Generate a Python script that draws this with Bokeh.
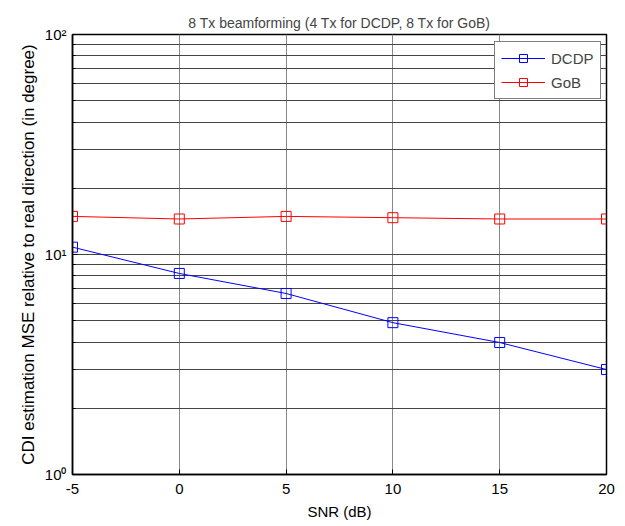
from bokeh.plotting import figure
from bokeh.models import Range1d, FixedTicker, CustomJSTickFormatter, Legend, LegendItem
from bokeh.embed import file_html
from bokeh.resources import INLINE

snr = [-5, 0, 5, 10, 15, 20]
dcdp = [10.8, 8.2, 6.65, 4.9, 3.98, 3.0]
gob = [14.9, 14.5, 14.9, 14.7, 14.5, 14.5]
x_ticks = [-5, 0, 5, 10, 15, 20]
y_ticks = [1, 10, 100]
y_minor = [2, 3, 4, 5, 6, 7, 8, 9, 20, 30, 40, 50, 60, 70, 80, 90]

FONT = "'Liberation Sans', Arial, sans-serif"

p = figure(width=625, height=526, y_axis_type="log", output_backend="svg",
           toolbar_location=None, x_range=Range1d(-5, 20), y_range=Range1d(1, 100),
           min_border_left=72, min_border_right=19, min_border_top=34, min_border_bottom=52,
           title="8 Tx beamforming (4 Tx for DCDP, 8 Tx for GoB)")
p.background_fill_color = "white"
p.border_fill_color = "white"
p.outline_line_color = "black"
p.outline_line_width = 1.5

p.title.text_font = FONT
p.title.text_font_size = "14px"
p.title.text_font_style = "normal"
p.title.align = "center"
p.title.offset = 0
p.title.standoff = 8

p.xaxis.ticker = FixedTicker(ticks=x_ticks)
p.xaxis.formatter = CustomJSTickFormatter(code="return String(tick);")
p.yaxis.ticker = FixedTicker(ticks=y_ticks, minor_ticks=y_minor)
p.yaxis.formatter = CustomJSTickFormatter(code="""
const sup = {'0':'\u2070','1':'\u00b9','2':'\u00b2'};
const e = Math.round(Math.log10(tick));
return '10' + sup[String(e)];
""")

for ax in (p.xaxis[0], p.yaxis[0]):
    ax.axis_line_color = "black"
    ax.axis_line_width = 1.5
    ax.major_tick_in = 5
    ax.major_tick_out = 0
    ax.minor_tick_in = 3
    ax.minor_tick_out = 0
    ax.major_tick_line_color = "black"
    ax.minor_tick_line_color = "black"
    ax.major_label_text_font = FONT
    ax.major_label_text_font_size = "15px"
    ax.major_label_text_color = "black"
    ax.axis_label_text_font = FONT
    ax.axis_label_text_font_style = "normal"
    ax.axis_label_text_color = "black"

p.xaxis.axis_label_text_font_size = "15px"
p.yaxis.axis_label_text_font_size = "17px"
p.xaxis.axis_label = "SNR (dB)"
p.yaxis.axis_label = "CDI estimation MSE relative to real direction (in degree)"
p.xaxis.major_label_standoff = 9
p.xaxis.axis_label_standoff = 6
p.yaxis.major_label_standoff = 6
p.yaxis.axis_label_standoff = 4

p.xgrid.grid_line_color = "#888888"
p.xgrid.grid_line_width = 1
p.ygrid.grid_line_color = "#444444"
p.ygrid.grid_line_width = 1
p.ygrid.minor_grid_line_color = "#444444"
p.ygrid.minor_grid_line_width = 1

l1 = p.line(snr, dcdp, line_color="blue", line_width=1)
m1 = p.scatter(snr, dcdp, marker="square", size=10, line_color="blue", fill_color=None, line_width=1)
l2 = p.line(snr, gob, line_color="red", line_width=1)
m2 = p.scatter(snr, gob, marker="square", size=10, line_color="red", fill_color=None, line_width=1)

legend = Legend(items=[LegendItem(label="DCDP", renderers=[l1, m1]),
                       LegendItem(label="GoB", renderers=[l2, m2])],
                location=(422, 375))
legend.border_line_color = "black"
legend.border_line_width = 1
legend.background_fill_color = "white"
legend.background_fill_alpha = 1
legend.label_text_font = FONT
legend.label_text_font_size = "15px"
legend.glyph_width = 44
legend.glyph_height = 20
legend.label_standoff = 6
legend.spacing = 4
legend.padding = 6
legend.margin = 0
p.add_layout(legend, "center")

open("out.html", "w").write(file_html(p, INLINE))
